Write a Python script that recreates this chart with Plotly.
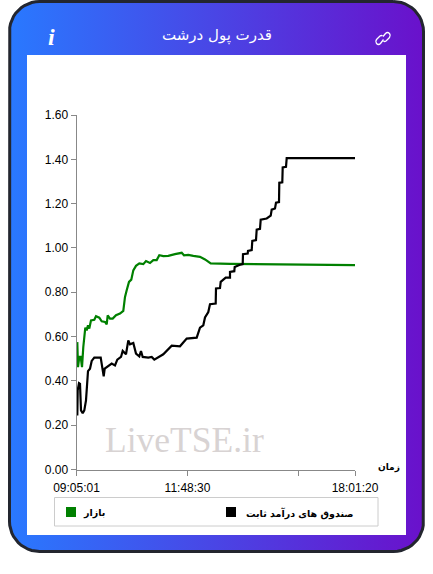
import math
import plotly.graph_objects as go

# sample position along the axis and value for each series
market_idx = [0.8, 1.5, 2.8, 4.2, 5.5, 6.8, 8.8, 10.2, 11.5, 12.8, 14.5, 17.8, 19.5, 22.8, 25.2, 28.5, 30.2, 31.2,
              33.5, 36.2, 39.5, 43.5, 46.8, 48.5, 50.2, 52.5, 54.8, 56.8, 59.5, 62.8, 66.8, 69.5, 73.5, 76.8, 80.2,
              82.8, 86.8, 91.8, 98.5, 105.2, 107.5, 111.8, 116.8, 123.5, 128.5, 134.2, 153.5, 193.5, 278.5]
market_vals = [0.575, 0.462, 0.508, 0.508, 0.462, 0.553, 0.640, 0.628, 0.651, 0.636, 0.673, 0.676, 0.692, 0.685,
               0.669, 0.666, 0.655, 0.696, 0.681, 0.681, 0.696, 0.704, 0.716, 0.779, 0.809, 0.847, 0.857, 0.899,
               0.919, 0.930, 0.927, 0.941, 0.932, 0.945, 0.945, 0.967, 0.963, 0.964, 0.972, 0.978, 0.967, 0.969,
               0.964, 0.960, 0.948, 0.930, 0.928, 0.925, 0.922]

fund_idx = [0.8, 1.2, 2.5, 3.5, 4.5, 6.2, 7.8, 9.5, 11.5, 13.5, 15.2, 17.8, 24.2, 25.8, 27.2, 28.2, 31.8, 35.2,
            38.5, 40.8, 44.5, 46.2, 49.5, 51.8, 53.5, 56.8, 59.5, 62.8, 64.5, 66.2, 71.8, 75.2, 77.8, 83.5, 86.8,
            95.2, 103.5, 110.2, 120.2, 123.5, 126.8, 128.5, 131.8, 133.5, 139.2, 139.5, 143.5, 144.2, 148.5, 149.2,
            153.5, 153.5, 157.8, 158.2, 162.8, 166.2, 166.5, 171.2, 171.5, 175.2, 175.8, 179.5, 180.2, 183.5, 184.2,
            190.2, 194.2, 195.2, 198.5, 199.5, 202.5, 202.8, 205.8, 206.2, 209.5, 210.2, 278.5]
fund_vals = [0.244, 0.357, 0.390, 0.387, 0.267, 0.254, 0.267, 0.312, 0.444, 0.455, 0.490, 0.505, 0.505, 0.466,
             0.420, 0.455, 0.466, 0.478, 0.470, 0.496, 0.508, 0.535, 0.520, 0.583, 0.565, 0.571, 0.523, 0.511,
             0.535, 0.508, 0.505, 0.508, 0.496, 0.511, 0.520, 0.559, 0.556, 0.591, 0.595, 0.640, 0.651, 0.686,
             0.711, 0.746, 0.749, 0.817, 0.819, 0.847, 0.862, 0.866, 0.866, 0.892, 0.895, 0.914, 0.923, 0.927,
             0.972, 0.975, 0.987, 0.990, 1.032, 1.035, 1.083, 1.086, 1.128, 1.133, 1.146, 1.173, 1.178, 1.204,
             1.207, 1.294, 1.296, 1.363, 1.366, 1.405, 1.405]

x_ticks = [0, 111, 222, 278.5]
x_labels = ['09:05:01', '11:48:30', '', '18:01:20']
y_ticks = [0, 0.2, 0.4, 0.6, 0.8, 1.0, 1.2, 1.4, 1.6]

W, H = 433, 574
PLOT_L, PLOT_R, PLOT_T, PLOT_B = 76.5, 355, 115, 469.5


def rounded_rect(x0, y0, x1, y1, r):
    xs, ys = [], []
    corners = [(x1 - r, y0 + r, -90), (x1 - r, y1 - r, 0), (x0 + r, y1 - r, 90), (x0 + r, y0 + r, 180)]
    for cx, cy, start in corners:
        for k in range(13):
            a = math.radians(start + k * 7.5)
            xs.append(cx + r * math.cos(a))
            ys.append(cy + r * math.sin(a))
    return xs + xs[:1], ys + ys[:1]


fig = go.Figure()

# card background lives on the full-page axes (drawn first, so underneath the chart)
card_x, card_y = rounded_rect(9.5, 1.5, 423.5, 551.5, 30)
fig.add_trace(go.Scatter(x=card_x, y=card_y, mode='lines', fill='toself', hoverinfo='skip',
                         line=dict(color='#23262f', width=3),
                         fillgradient=dict(type='horizontal',
                                           colorscale=[[0, '#2979ff'], [1, '#6a11cb']])))
fig.add_trace(go.Scatter(x=[27, 406, 406, 27, 27], y=[55, 55, 535, 535, 55], mode='lines', fill='toself',
                         fillcolor='white', line=dict(width=0), hoverinfo='skip'))

# chart
fig.add_trace(go.Scatter(x=market_idx, y=market_vals, mode='lines', xaxis='x2', yaxis='y2',
                         line=dict(color='#008000', width=2.2), name='بازار'))
fig.add_trace(go.Scatter(x=fund_idx, y=fund_vals, mode='lines', xaxis='x2', yaxis='y2',
                         line=dict(color='#000000', width=2.2), name='صندوق های درآمد ثابت'))


def px_note(x, y, text, size, color='black', font='Liberation Sans', xanchor='center'):
    return dict(x=x, y=y, xref='x', yref='y', text=text, showarrow=False, xanchor=xanchor, yanchor='middle',
                font=dict(family=font, size=size, color=color))


notes = [
    px_note(217, 35, 'قدرت پول درشت', 15, 'white', 'DejaVu Sans'),
    px_note(51, 37, '<b><i>i</i></b>', 24, 'white', 'Liberation Serif'),
    px_note(184, 440, 'LiveTSE.ir', 35.5, '#d8d3d3', 'Liberation Serif'),
    px_note(389, 467, '<b>زمان</b>', 9, 'black', 'DejaVu Sans'),
    px_note(94, 513, '<b>بازار</b>', 9.5, 'black', 'DejaVu Sans'),
    px_note(299, 513, '<b>صندوق های درآمد ثابت</b>', 9.5, 'black', 'DejaVu Sans'),
]

shapes = [
    dict(type='rect', xref='x', yref='y', x0=54.5, x1=378, y0=497.5, y1=526, line=dict(color='#cccccc', width=1),
         layer='above'),
    dict(type='rect', xref='x', yref='y', x0=66, x1=76, y0=507, y1=517, fillcolor='#008000', line=dict(width=0),
         layer='above'),
    dict(type='rect', xref='x', yref='y', x0=226, x1=236, y0=507, y1=517, fillcolor='#000000', line=dict(width=0),
         layer='above'),
    # link icon
    dict(type='path', xref='x', yref='y', line=dict(color='white', width=1.3), layer='above',
         path='M 383 36.5 L 385.5 33.5 Q 387.5 31.5 389.5 33.5 Q 391 35.5 389.5 37.5 L 386 41 Q 384.5 42 383.5 41'),
    dict(type='path', xref='x', yref='y', line=dict(color='white', width=1.3), layer='above',
         path='M 383.5 39.5 L 380.5 43.5 Q 378.5 45.5 376.5 43.5 Q 375 41.5 376.5 39.5 L 380 36 Q 381.5 35 382.5 36'),
]

fig.update_layout(
    width=W, height=H,
    margin=dict(l=0, r=0, t=0, b=0, autoexpand=False),
    paper_bgcolor='white', plot_bgcolor='rgba(0,0,0,0)',
    showlegend=False,
    annotations=notes, shapes=shapes,
    xaxis=dict(domain=[0, 1], range=[0, W], visible=False, fixedrange=True, automargin=False),
    yaxis=dict(domain=[0, 1], range=[H, 0], visible=False, fixedrange=True, automargin=False),
    xaxis2=dict(domain=[PLOT_L / W, PLOT_R / W], range=[0, 278.5], anchor='y2', automargin=False,
                tickmode='array', tickvals=x_ticks, ticktext=x_labels, ticks='outside', ticklen=5,
                ticklabelstandoff=2,
                tickcolor='#888888', showline=True, linecolor='#888888', linewidth=1, showgrid=False, zeroline=False,
                tickfont=dict(family='Liberation Sans', size=12, color='black')),
    yaxis2=dict(domain=[1 - PLOT_B / H, 1 - PLOT_T / H], range=[0, 1.6], anchor='x2', automargin=False,
                tickmode='array', tickvals=y_ticks, tickformat='.2f', ticks='outside', ticklen=5,
                tickcolor='#888888', showline=True, linecolor='#888888', linewidth=1, showgrid=False, zeroline=False,
                tickfont=dict(family='Liberation Sans', size=12, color='black')),
)

fig.write_html("out.html", config=dict(displayModeBar=False), post_script="document.body.style.margin='0';")
